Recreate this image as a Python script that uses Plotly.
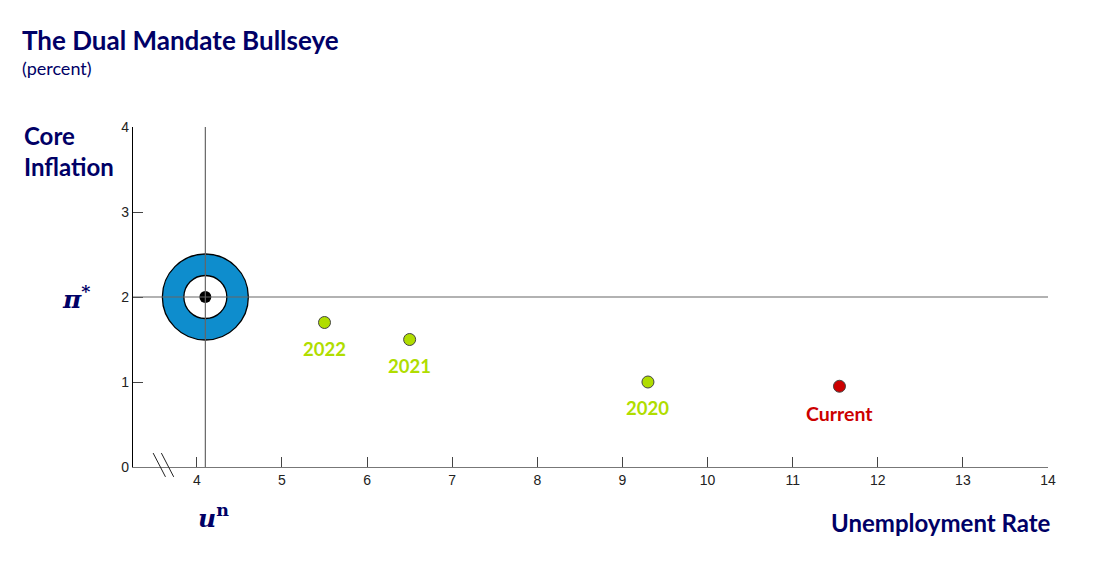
import plotly.graph_objects as go

# data
years = ['2022', '2021', '2020']
year_unemp = [5.5, 6.5, 9.3]
year_infl = [1.7, 1.5, 1.0]

current_unemp = [11.55]
current_infl = [0.95]

target_unemp = 4.1   # u^n
target_infl = 2.0    # pi*

x_ticks = [4, 5, 6, 7, 8, 9, 10, 11, 12, 13, 14]
y_ticks = [0, 1, 2, 3, 4]

NAVY = '#000066'
GREEN = '#b0dd00'
RED = '#cc0000'
BLUE = '#0e8dcd'

fig = go.Figure()

# bullseye: blue ring, white centre, black dot
fig.add_trace(go.Scatter(
    x=[target_unemp], y=[target_infl], mode='markers',
    marker=dict(size=86, color=BLUE, line=dict(color='black', width=1.3)),
    hoverinfo='skip'
))
fig.add_trace(go.Scatter(
    x=[target_unemp], y=[target_infl], mode='markers',
    marker=dict(size=43, color='white', line=dict(color='black', width=1.3)),
    hoverinfo='skip'
))
fig.add_trace(go.Scatter(
    x=[target_unemp], y=[target_infl], mode='markers',
    marker=dict(size=12, color='black'),
    hoverinfo='skip'
))

# past years and current reading
fig.add_trace(go.Scatter(
    x=year_unemp, y=year_infl, mode='markers',
    marker=dict(size=12, color=GREEN, line=dict(color='#444', width=1)),
    cliponaxis=False
))
fig.add_trace(go.Scatter(
    x=current_unemp, y=current_infl, mode='markers',
    marker=dict(size=12, color=RED, line=dict(color='#444', width=1)),
    cliponaxis=False
))

# point labels, set a bit below each point
for lab, ux, py in zip(years, year_unemp, year_infl):
    fig.add_annotation(x=ux, y=py, text=lab, showarrow=False, yshift=-26,
                       font=dict(family='Lato', size=18.5, color=GREEN, weight='bold'))
fig.add_annotation(x=current_unemp[0], y=current_infl[0], text='Current', showarrow=False,
                   yshift=-27, font=dict(family='Lato', size=19.5, color=RED, weight='bold'))

# cross-hair lines through the target, drawn over the bullseye
fig.add_shape(type='line', x0=target_unemp, x1=target_unemp, y0=min(y_ticks), y1=max(y_ticks),
              xref='x', yref='y', line=dict(color='#666', width=1.2), layer='above')
fig.add_shape(type='line', x0=3.25, x1=max(x_ticks), y0=target_infl, y1=target_infl,
              xref='x', yref='y', line=dict(color='#666', width=1.2), layer='above')

# axis break marks
for x0 in [0.022, 0.031]:
    fig.add_shape(type='line', xref='paper', yref='paper',
                  x0=x0, x1=x0 + 0.0135, y0=0.041, y1=-0.029,
                  line=dict(color='#222', width=1))

fig.update_xaxes(
    range=[3.25, 14], tickvals=x_ticks,
    showline=True, linecolor='#777', linewidth=1.2,
    ticks='inside', ticklen=10, tickcolor='#444', tickwidth=1,
    showgrid=False, zeroline=False,
    tickfont=dict(family='Liberation Sans', size=14, color='#222')
)
fig.update_yaxes(
    range=[0, 4], tickvals=y_ticks,
    showline=True, linecolor='black', linewidth=1.2,
    ticks='inside', ticklen=10, tickcolor='#444', tickwidth=1,
    showgrid=False, zeroline=False,
    tickfont=dict(family='Liberation Sans', size=14, color='#222')
)

ann_font = dict(family='Lato', size=24, color=NAVY, weight='bold')
fig.update_layout(
    width=1093, height=566,
    margin=dict(l=125, r=53, t=119, b=107),
    plot_bgcolor='white', paper_bgcolor='white',
    showlegend=False,
)
for a in [
    dict(text='The Dual Mandate Bullseye', x=-0.1235, y=1.256, xanchor='left',
         font=dict(family='Lato', size=26, color=NAVY, weight='bold')),
    dict(text='(percent)', x=-0.1235, y=1.174, xanchor='left',
         font=dict(family='Lato', size=18, color=NAVY)),
    dict(text='Core<br>Inflation', x=-0.121, y=0.929, xanchor='left', align='left',
         font=ann_font),
    dict(text='Unemployment Rate', x=1.0055, y=-0.162, xanchor='right', font=ann_font),
]:
    fig.add_annotation(xref='paper', yref='paper', yanchor='middle', showarrow=False, **a)

fig.add_annotation(text='<i>π</i><sup>*</sup>', xref='paper', yref='y',
                   x=-0.08, y=target_infl, showarrow=False,
                   font=dict(family='DejaVu Serif', size=25, color=NAVY, weight='bold'))
fig.add_annotation(text='<i>u</i><sup>n</sup>', xref='x', yref='paper',
                   x=target_unemp + 0.1, y=-0.2, showarrow=False,
                   font=dict(family='DejaVu Serif', size=25, color=NAVY, weight='bold'))

fig.write_html('out.html')
